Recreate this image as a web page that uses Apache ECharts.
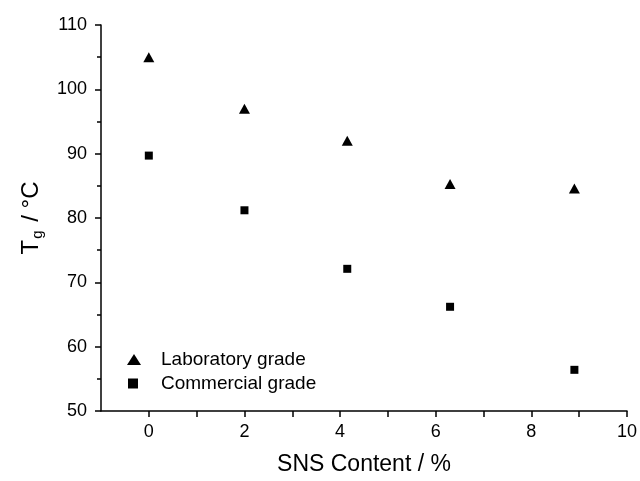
<!DOCTYPE html>
<html><head><meta charset="utf-8">
<script src="https://cdn.jsdelivr.net/npm/echarts@6/dist/echarts.min.js"></script>
<style>html,body{margin:0;padding:0;background:#fff}#c{width:640px;height:481px}</style>
</head><body><div id="c"></div>
<script>
var sncContent = [0, 2, 4.15, 6.3, 8.9];
var labGrade = [105.0, 97.0, 92.0, 85.3, 84.6];
var comGrade = [89.7, 81.2, 72.1, 66.2, 56.4];
var seriesNames = ['Laboratory grade', 'Commercial grade'];
var xTitle = 'SNS Content / %';

var font = 'Liberation Sans, Arial, sans-serif';
var chart = echarts.init(document.getElementById('c'));
function pairs(xs, ys){ return xs.map(function(x,i){return [x, ys[i]];}); }
var axisCommon = {
  axisLine:{show:true,onZero:false,lineStyle:{color:'#000',width:1.5}},
  axisTick:{show:true,inside:false,length:6,lineStyle:{color:'#000',width:1.5}},
  minorTick:{show:true,splitNumber:2,length:4,lineStyle:{color:'#000',width:1.5}},
  splitLine:{show:false},
  axisLabel:{color:'#000',fontFamily:font,fontSize:18}
};
chart.setOption({
  animation:false,
  backgroundColor:'#fff',
  grid:{left:101,right:10,top:25,bottom:68,containLabel:false},
  xAxis:Object.assign({}, axisCommon, {
    type:'value',min:-1,max:10,interval:1,
    axisLabel:Object.assign({}, axisCommon.axisLabel,{margin:12,formatter:function(v){return v%2===0?String(v):'';},showMinLabel:false}),
    minorTick:{show:false},
    name:xTitle,nameLocation:'middle',nameGap:42,
    nameTextStyle:{color:'#000',fontFamily:font,fontSize:23}
  }),
  yAxis:Object.assign({}, axisCommon, {
    type:'value',min:50,max:110,interval:10,
    axisLabel:Object.assign({}, axisCommon.axisLabel,{margin:14}),
    name:'{m|T}{s|g}{m| / °C}',nameLocation:'middle',nameGap:56,nameRotate:90,
    nameTextStyle:{rich:{m:{color:'#000',fontFamily:font,fontSize:24},s:{color:'#000',fontFamily:font,fontSize:15,padding:[12,2,0,1]}}}
  }),
  legend:[
    {data:[seriesNames[0]],orient:'vertical',left:127,top:350,padding:0,itemWidth:14,itemHeight:11,
     textStyle:{color:'#000',fontFamily:font,fontSize:19,lineHeight:18,padding:[0,0,0,15]}},
    {data:[seriesNames[1]],orient:'vertical',left:128,top:374,padding:0,itemWidth:10,itemHeight:10,
     textStyle:{color:'#000',fontFamily:font,fontSize:19,lineHeight:18,padding:[0,0,0,18]}}
  ],
  series:[
    {name:seriesNames[0],type:'scatter',symbol:'triangle',symbolSize:[11,10],itemStyle:{color:'#000',opacity:1},data:pairs(sncContent,labGrade)},
    {name:seriesNames[1],type:'scatter',symbol:'rect',symbolSize:8,itemStyle:{color:'#000',opacity:1},data:pairs(sncContent,comGrade)}
  ]
});
</script></body></html>
